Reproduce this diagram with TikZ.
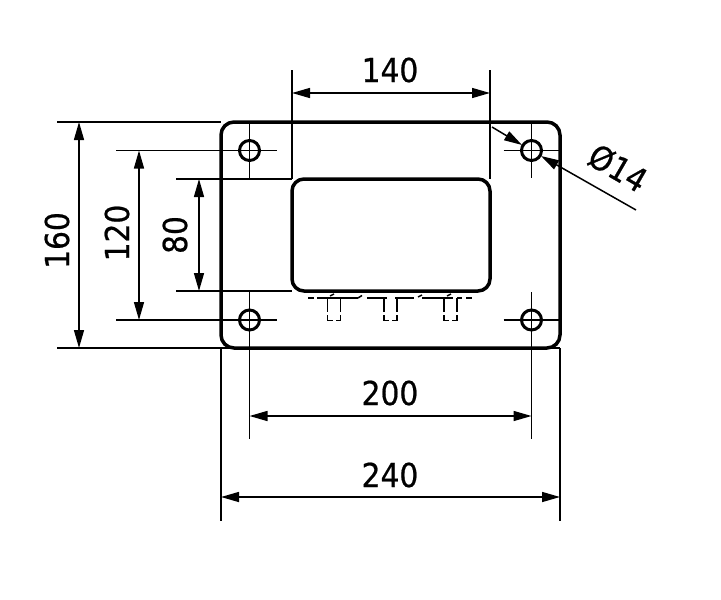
\documentclass[tikz,border=0pt]{standalone}
\usepackage{fontspec}
\setmainfont[FakeStretch=0.9,FakeBold=0.6]{DejaVu Sans}
\usetikzlibrary{arrows.meta}
\tikzset{
  thin line/.style={line width=1.5pt,black},
  thick line/.style={line width=3.5pt,black},
  hole/.style={line width=3pt,black},
  hidden/.style={line width=2.6pt,black},
  dim/.style={thin line,{Triangle[length=18pt,width=10pt]}-{Triangle[length=18pt,width=10pt]}},
  tip/.style={thin line,-{Triangle[length=18pt,width=10pt]}},
  lbl/.style={font=\fontsize{33}{33}\selectfont,inner sep=0pt,text=black}
}
\begin{document}
\begin{tikzpicture}[x=1pt,y=-1pt]
\useasboundingbox (0,0) rectangle (721,600);
% named reference coordinates
\coordinate (pTL) at (221,122); \coordinate (pBR) at (560,348);
\coordinate (iTL) at (292,179); \coordinate (iBR) at (490,291);
\coordinate (hTL) at (249.5,150.5); \coordinate (hTR) at (531.5,150.5);
\coordinate (hBL) at (249.5,320); \coordinate (hBR) at (531.5,320);
% extension lines, horizontal
\draw[thin line] (57,122) -- (pTL);
\draw[thin line] (57,348) -- (pBR);
\draw[thin line] (116,150.5) -- (277,150.5);
\draw[thin line] (116,320) -- (277,320);
\draw[thin line] (176,179) -- (iTL);
\draw[thin line] (176,291) -- (292,291);
\draw[thin line] (503.5,150.5) -- (560,150.5);
\draw[thin line] (503.5,320) -- (560,320);
% extension lines, vertical
\draw[thin line] (221,348) -- (221,521);
\draw[thin line] (560,348) -- (560,521);
\draw[thin line] (249.5,122) -- (249.5,179);
\draw[thin line] (249.5,291) -- (249.5,439);
\draw[thin line] (531.5,122) -- (531.5,178);
\draw[thin line] (531.5,292) -- (531.5,439);
\draw[thin line] (292,70) -- (iTL);
\draw[thin line] (490,70) -- (490,179);
% plate and window
\draw[thick line,rounded corners=13pt] (pTL) rectangle (pBR);
\draw[thick line,rounded corners=12pt] (iTL) rectangle (iBR);
% holes
\foreach \c/\n in {hTL/a,hTR/b,hBL/c,hBR/d}
  \node[draw,circle,hole,minimum size=20pt,inner sep=0pt] (\n) at (\c) {};
% hidden detail
\draw[hidden] (308,298) -- (314,298) (317,298) -- (358,298) (367,298) -- (387,298)
  (395,298) -- (414,298) (422,298) -- (453,298) (457,298) -- (462,298) (466,298) -- (472,298);
\draw[line width=1.5pt] (358,298) -- (362,295.5) (418,297) -- (422,295) (330,296) -- (334,294) (447,296) -- (451,294);
\foreach \x in {327.5,384,444}{
  \draw[line width=1.7pt] (\x,298) -- (\x,312) (\x,315) -- (\x,320.5) -- (\x+5,320.5);
  \draw[line width=1.7pt] (\x+13,298) -- (\x+13,312) (\x+13,315) -- (\x+13,320.5) -- (\x+8,320.5);
}
% dimensions
\draw[dim] (292,93) -- (490,93);
\draw[dim] (249.5,416) -- (531.5,416);
\draw[dim] (221,497) -- (560,497);
\draw[dim] (79,122) -- (79,348);
\draw[dim] (139,150.5) -- (139,320);
\draw[dim] (199,179) -- (199,291);
% diameter leaders
\coordinate (l1) at (492,127); \coordinate (l2) at (636,210);
\draw[tip] (l1) -- (522,145);
\draw[tip] (l2) -- (541,156);
% labels
\node[lbl] (t140) at (390,70) {140};
\node[lbl] (t200) at (390,393) {200};
\node[lbl] (t240) at (390,475) {240};
\node[lbl,rotate=90] (t160) at (57,240.5) {160};
\node[lbl,rotate=90] (t120) at (117,233) {120};
\node[lbl,rotate=90] (t80) at (175,235) {80};
\node[lbl,rotate=-30] (t14) at (618,168) {Ø14};
\end{tikzpicture}
\end{document}
